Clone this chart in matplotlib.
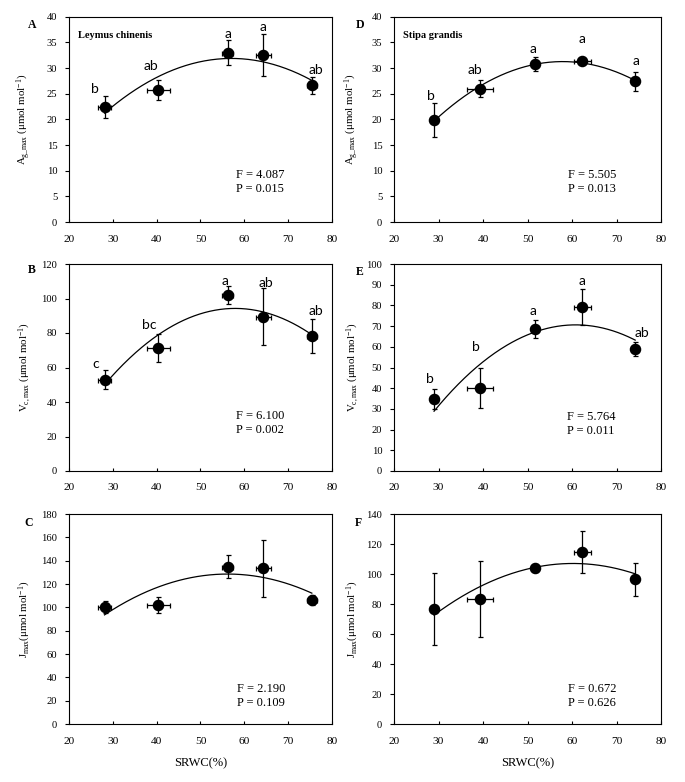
import numpy as np
import matplotlib
matplotlib.use("Agg")
import matplotlib.pyplot as plt

# ---------------- data ----------------
srwc_ly = [28.1, 40.4, 56.2, 64.3, 75.4]
srwc_ly_err = [1.55, 2.6, 1.25, 1.7, 1.1]
srwc_st = [29.0, 39.3, 51.7, 62.3, 74.2]
srwc_st_err = [0.5, 3.0, 0.5, 1.95, 0.5]

ag_ly = [22.4, 25.7, 33.0, 32.5, 26.6]
ag_ly_err = [2.1, 1.9, 2.45, 4.05, 1.65]
vc_ly = [53.0, 71.5, 102.2, 89.4, 78.3]
vc_ly_err = [5.5, 8.2, 5.1, 16.4, 10.0]
j_ly = [100.5, 102.0, 135.0, 133.5, 106.3]
j_ly_err = [5.2, 6.8, 10.1, 24.4, 4.7]

ag_st = [19.9, 26.0, 30.8, 31.3, 27.4]
ag_st_err = [3.25, 1.7, 1.3, 0.5, 1.85]
vc_st = [34.8, 40.0, 68.6, 79.1, 58.8]
vc_st_err = [4.75, 9.7, 4.5, 8.6, 3.4]
j_st = [77.0, 83.4, 104.2, 114.6, 96.4]
j_st_err = [24.0, 25.4, 2.7, 14.0, 11.2]

letters_A = ["b", "ab", "a", "a", "ab"]
letters_B = ["c", "bc", "a", "ab", "ab"]
letters_D = ["b", "ab", "a", "a", "a"]
letters_E = ["b", "b", "a", "a", "ab"]

stats = {"A": ("4.087", "0.015"), "B": ("6.100", "0.002"), "C": ("2.190", "0.109"),
         "D": ("5.505", "0.013"), "E": ("5.764", "0.011"), "F": ("0.672", "0.626")}

SERIF = ["Liberation Serif", "DejaVu Serif"]
SANS = ["Lato", "DejaVu Sans"]
plt.rcParams['font.family'] = SERIF
plt.rcParams['mathtext.fontset'] = 'custom'
plt.rcParams['mathtext.rm'] = 'Liberation Serif'
plt.rcParams['mathtext.it'] = 'Liberation Serif:italic'

W, H = 685, 782
fig = plt.figure(figsize=(W / 100, H / 100), dpi=100)


def ax_at(x0, y0, x1, y1):
    return fig.add_axes([x0 / W, 1 - y1 / H, (x1 - x0) / W, (y1 - y0) / H])


def panel(ax, x, xe, y, ye, ymax, ystep, ylabel, stat, letters=None, letter_xy=None,
          fx=0.64, fy=0.23, title=None, ylab_x=-0.137):
    ax.set_xlim(20, 80)
    ax.set_ylim(0, ymax)
    ax.set_xticks(np.arange(20, 81, 10))
    ax.set_yticks(np.arange(0, ymax + 0.1, ystep))
    for s in ax.spines.values():
        s.set_linewidth(0.8)
    ax.tick_params(axis='y', direction='out', length=3, width=0.8, labelsize=7.6, pad=5.5)
    ax.tick_params(axis='x', direction='in', length=2.5, width=0.8, labelsize=8.2, pad=9)
    # quadratic trend line fitted to the means
    c = np.polyfit(x, y, 2)
    xx = np.linspace(min(x), max(x), 200)
    ax.plot(xx, np.polyval(c, xx), color='black', lw=0.9, zorder=2)
    ax.errorbar(x, y, xerr=xe, yerr=ye, fmt='o', color='black', ms=7.3,
                elinewidth=0.9, capsize=1.8, capthick=0.9, zorder=3)
    ax.set_ylabel(ylabel, fontsize=7.8)
    ax.yaxis.set_label_coords(ylab_x, 0.5)
    ax.text(fx, fy, "F = " + stat[0], transform=ax.transAxes, fontsize=9, va='center')
    ax.text(fx, fy - 0.068, "P = " + stat[1], transform=ax.transAxes, fontsize=9, va='center')
    if letters is not None:
        for lab, (lx, ly) in zip(letters, letter_xy):
            ax.text(lx, ly, lab, ha='center', va='center', fontsize=10, family=SANS)
    if title:
        ax.text(0.035, 0.91, title, transform=ax.transAxes, fontsize=7.5,
                fontweight='bold', va='center')


ylab_A = r"A$_{\mathrm{g\_max}}$ (μmol mol$^{-1}$)"
ylab_V = r"V$_{\mathrm{c,max}}$ (μmol mol$^{-1}$)"
ylab_J = r"J$_{\mathrm{max}}$(μmol mol$^{-1}$)"

axA = ax_at(69, 16.7, 332, 222)
panel(axA, srwc_ly, srwc_ly_err, ag_ly, ag_ly_err, 40, 5, ylab_A, stats["A"],
      letters_A, [(26.0, 25.9), (38.7, 30.4), (56.2, 36.7), (64.3, 37.9), (76.4, 29.6)],
      fx=0.634, fy=0.229, title="Leymus chinenis")
axB = ax_at(69, 264, 332, 471)
panel(axB, srwc_ly, srwc_ly_err, vc_ly, vc_ly_err, 120, 20, ylab_V, stats["B"],
      letters_B, [(26.2, 62.3), (38.4, 84.4), (55.7, 110.1), (65.0, 109.2), (76.3, 92.7)],
      fx=0.634, fy=0.265)
axC = ax_at(69, 514, 332, 724)
panel(axC, srwc_ly, srwc_ly_err, j_ly, j_ly_err, 180, 20, ylab_J, stats["C"],
      fx=0.64, fy=0.166)

axD = ax_at(394, 16.7, 661, 222)
panel(axD, srwc_st, srwc_st_err, ag_st, ag_st_err, 40, 5, ylab_A, stats["D"],
      letters_D, [(28.4, 24.6), (38.3, 29.6), (51.2, 33.8), (62.3, 35.6), (74.3, 31.4)],
      fx=0.651, fy=0.229, title="Stipa grandis", ylab_x=-0.122)
axE = ax_at(394, 264, 661, 471)
panel(axE, srwc_st, srwc_st_err, vc_st, vc_st_err, 100, 10, ylab_V, stats["E"],
      letters_E, [(28.1, 44.4), (38.5, 59.7), (51.2, 77.3), (62.3, 91.6), (75.8, 66.5)],
      fx=0.648, fy=0.262, ylab_x=-0.122)
axF = ax_at(394, 514, 661, 724)
panel(axF, srwc_st, srwc_st_err, j_st, j_st_err, 140, 20, ylab_J, stats["F"],
      fx=0.651, fy=0.167, ylab_x=-0.122)

for ax in (axC, axF):
    ax.set_xlabel("SRWC(%)", fontsize=9)
    ax.xaxis.set_label_coords(0.5, -0.185)
    ax.xaxis.label.set_va('center')

for lab, (px, py) in zip("ABCDEF", [(32, 25), (32, 270), (29, 523),
                                     (360, 25), (360, 272), (358, 523)]):
    fig.text(px / W, 1 - py / H, lab, fontsize=8.5, fontweight='bold', ha='center', va='center')

fig.savefig("out.png", dpi=100)
